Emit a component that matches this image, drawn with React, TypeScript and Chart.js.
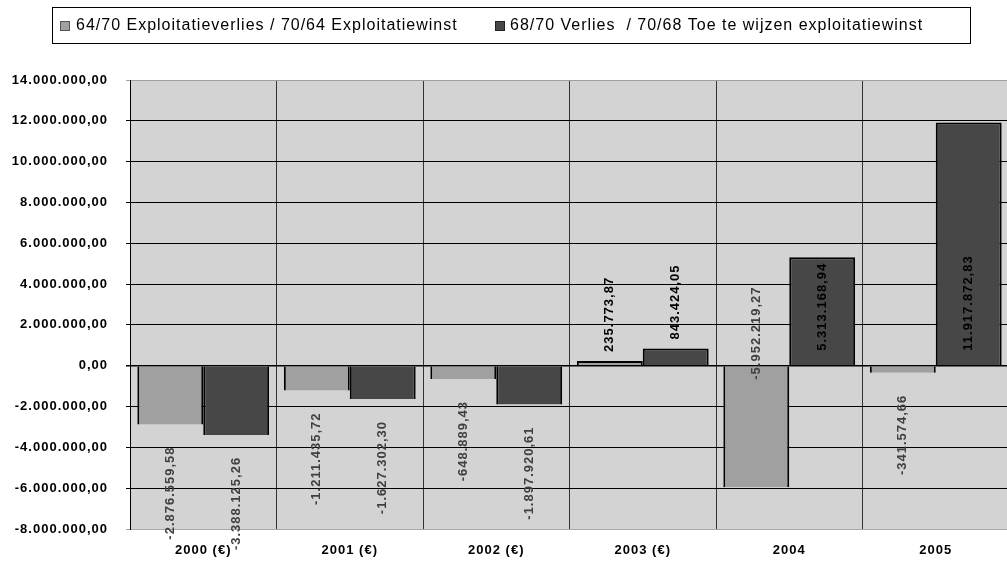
import React, { useEffect, useRef } from 'react';
import { Chart, registerables } from 'chart.js';

Chart.register(...registerables);

const categories = ['2000 (€)', '2001 (€)', '2002 (€)', '2003 (€)', '2004', '2005'];
const seriesNames = [
  '64/70 Exploitatieverlies / 70/64 Exploitatiewinst',
  '68/70 Verlies  / 70/68 Toe te wijzen exploitatiewinst',
];
const exploitatie = [-2876559.58, -1211435.72, -648889.43, 235773.87, -5952219.27, -341574.66];
const verlies = [-3388125.26, -1627302.3, -1897920.61, 843424.05, 5313168.94, 11917872.83];
const exploitatieLabelMode = ['out', 'out', 'out', 'out', 'base', 'out'];
const verliesLabelMode = ['out', 'out', 'out', 'out', 'base', 'base'];
const yMin = -8000000;
const yMax = 14000000;
const yStep = 2000000;

const FONT = '"Liberation Sans", Arial, sans-serif';
const LIGHT = '#a0a0a0';
const DARK = '#474747';

function fmt(v: number): string {
  const neg = v < 0;
  const [i, d] = Math.abs(v).toFixed(2).split('.');
  const ii = i.replace(/\B(?=(\d{3})+(?!\d))/g, '.');
  return (neg ? '-' : '') + ii + ',' + d;
}

const spacingPlugin = {
  id: 'spacing',
  beforeUpdate(chart: any) {
    chart.ctx.letterSpacing = '1px';
  },
  beforeDraw(chart: any) {
    const ctx = chart.ctx;
    ctx.letterSpacing = '1px';
    const a = chart.chartArea;
    ctx.save();
    ctx.fillStyle = '#d3d3d3';
    ctx.fillRect(a.left, a.top, a.right - a.left, a.bottom - a.top);
    ctx.restore();
  },
};

const labelPlugin = {
  id: 'barLabels',
  afterDatasetsDraw(chart: any) {
    const ctx = chart.ctx;
    const modes = [exploitatieLabelMode, verliesLabelMode];
    const y0 = chart.scales.y.getPixelForValue(0);
    chart.data.datasets.forEach((ds: any, di: number) => {
      const meta = chart.getDatasetMeta(di);
      meta.data.forEach((el: any, j: number) => {
        const v = ds.data[j] as number;
        const mode = modes[di][j];
        const text = fmt(v);
        ctx.save();
        ctx.letterSpacing = '1px';
        ctx.font = 'bold 13px ' + FONT;
        ctx.fillStyle = v < 0 ? '#404040' : '#000000';
        ctx.textBaseline = 'middle';
        let anchor: number;
        let align: CanvasTextAlign;
        if (mode === 'out') {
          if (v < 0) {
            anchor = el.y + 22;
            align = 'right';
          } else {
            anchor = el.y - 9;
            align = 'left';
          }
        } else {
          anchor = v < 0 ? y0 + 14 : y0 - 15;
          align = 'left';
        }
        ctx.translate(el.x, anchor);
        ctx.rotate(-Math.PI / 2);
        ctx.textAlign = align;
        ctx.fillText(text, 0, 0);
        ctx.restore();
      });
    });
  },
};

const legendPlugin = {
  id: 'boxLegend',
  afterDraw(chart: any) {
    const ctx = chart.ctx;
    ctx.save();
    ctx.letterSpacing = '1px';
    ctx.strokeStyle = '#000';
    ctx.lineWidth = 1;
    ctx.strokeRect(52.5, 7.5, 918, 36);
    const markerX = [60, 495];
    const textX = [76, 510];
    const borders = ['#555555', '#222222'];
    chart.data.datasets.forEach((ds: any, i: number) => {
      ctx.fillStyle = ds.backgroundColor;
      ctx.fillRect(markerX[i], 21, 10, 10);
      ctx.strokeStyle = borders[i];
      ctx.strokeRect(markerX[i] + 0.5, 21.5, 9, 9);
      ctx.fillStyle = '#000';
      ctx.font = '16px ' + FONT;
      ctx.textAlign = 'left';
      ctx.textBaseline = 'alphabetic';
      ctx.fillText(ds.label, textX[i], 30);
    });
    ctx.restore();
  },
};

const barBorder = (c: any) => {
  const v = c.raw as number;
  return v < 0 ? { left: 2, right: 2, top: 0, bottom: 0 } : { left: 2, right: 2, top: 2, bottom: 0 };
};

export default function App() {
  const ref = useRef<HTMLCanvasElement | null>(null);
  useEffect(() => {
    if (!ref.current) return;
    const chart = new Chart(ref.current, {
      type: 'bar',
      data: {
        labels: categories,
        datasets: [
          {
            label: seriesNames[0],
            data: exploitatie,
            backgroundColor: LIGHT,
            borderColor: '#000',
            borderWidth: barBorder,
            borderSkipped: false,
            categoryPercentage: 0.9,
            barPercentage: 1,
          },
          {
            label: seriesNames[1],
            data: verlies,
            backgroundColor: DARK,
            borderColor: '#000',
            borderWidth: barBorder,
            borderSkipped: false,
            categoryPercentage: 0.9,
            barPercentage: 1,
          },
        ],
      },
      options: {
        responsive: false,
        animation: false,
        devicePixelRatio: 1,
        layout: { padding: { top: 80, left: 0, right: 0, bottom: 0 } },
        plugins: { legend: { display: false }, tooltip: { enabled: false } },
        scales: {
          x: {
            offset: true,
            grid: { display: true, offset: true, color: '#333333', lineWidth: 1, tickLength: 0 },
            border: { display: true, color: '#a8a8a8' },
            ticks: {
              color: '#000',
              font: { family: FONT, size: 13, weight: 'bold' },
              padding: 14,
              maxRotation: 0,
              autoSkip: false,
            },
            afterFit(scale: any) {
              scale.height = 37;
            },
          },
          y: {
            min: yMin,
            max: yMax,
            grid: {
              color: (c: any) =>
                c.tick && (c.tick.value === yMin || c.tick.value === yMax) ? '#a0a0a0' : '#000000',
              lineWidth: (c: any) => (c.tick && c.tick.value === 0 ? 1.5 : 1),
              tickLength: 4,
            },
            border: { display: true, color: '#000', width: 1 },
            ticks: {
              stepSize: yStep,
              color: '#000',
              font: { family: FONT, size: 13, weight: 'bold' },
              padding: 18,
              callback: (v: any) => fmt(Number(v)),
            },
            afterFit(scale: any) {
              scale.width = 130;
            },
          },
        },
      },
      plugins: [spacingPlugin, labelPlugin, legendPlugin],
    } as any);
    return () => chart.destroy();
  }, []);
  return (
    <div
      style={{
        position: 'absolute',
        left: 0,
        top: 0,
        width: 1007,
        height: 566,
        overflow: 'hidden',
        background: '#fff',
      }}
    >
      <canvas ref={ref} width={1009} height={566} style={{ width: 1009, height: 566, display: 'block' }} />
    </div>
  );
}
